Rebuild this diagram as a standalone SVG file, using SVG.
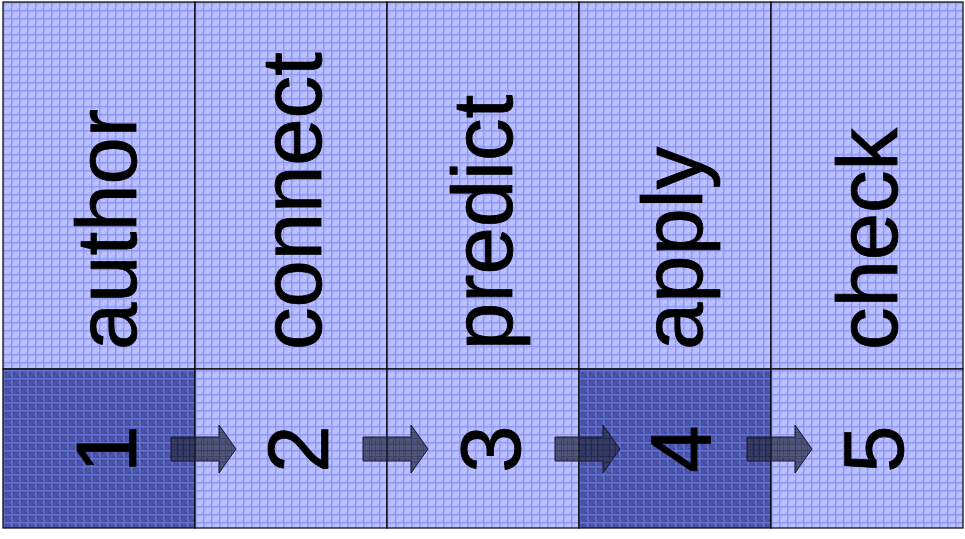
<svg xmlns="http://www.w3.org/2000/svg" width="965" height="539" viewBox="0 0 965 539">
  <defs>
    <!-- light blue grid fill -->
    <pattern id="gridLight" width="8" height="8" patternUnits="userSpaceOnUse" x="3" y="2">
      <rect width="8" height="8" fill="#bcc1fd"/>
      <rect x="2" y="2" width="2" height="2" fill="#aeb4fb"/>
      <rect x="6" y="6" width="2" height="2" fill="#aeb4fb"/>
      <rect x="0" y="0" width="8" height="1.5" fill="#8f99f4"/>
      <rect x="0" y="0" width="1.5" height="8" fill="#8f99f4"/>
    </pattern>
    <!-- dark blue grid fill -->
    <pattern id="gridDark" width="8" height="8" patternUnits="userSpaceOnUse" x="3" y="2">
      <rect width="8" height="8" fill="#4a55a6"/>
      <rect x="2" y="2" width="2" height="2" fill="#3f4996"/>
      <rect x="6" y="6" width="2" height="2" fill="#3f4996"/>
      <rect x="0" y="0" width="8" height="1.5" fill="#6470d6"/>
      <rect x="0" y="0" width="1.5" height="8" fill="#6470d6"/>
    </pattern>
    <!-- textured fill for the step arrows -->
    <pattern id="arrowFill" width="6" height="6" patternUnits="userSpaceOnUse" x="0" y="1">
      <rect width="6" height="6" fill="#2a2d45"/>
      <rect x="0" y="0" width="6" height="1" fill="#14162a"/>
      <rect x="0" y="0" width="1" height="6" fill="#14162a"/>
    </pattern>
    <polygon id="arrowShape" points="0,12 48,12 48,0 65,24 48,48 48,36 0,36"/>
  </defs>
  <style>
    .light { fill: url(#gridLight); stroke: #000; stroke-width: 1.2; }
    .dark { fill: url(#gridDark); stroke: #000; stroke-width: 1.2; }
    .label { font-family: "Liberation Sans", Arial, sans-serif; font-size: 85px; fill: #000; stroke: #000; stroke-width: 0.8; }
    .num { font-family: "Liberation Sans", Arial, sans-serif; font-size: 85px; fill: #000; stroke: #000; stroke-width: 0.8; text-anchor: middle; }
    .arrow { fill: url(#arrowFill); fill-opacity: 0.72; stroke: #1a1a2a; stroke-width: 1; }
  </style>

  <g id="step-author">
    <rect class="light" x="3" y="2" width="192" height="367"/>
    <rect class="dark" x="3" y="369" width="192" height="159"/>
    <text class="label" transform="translate(136,350) rotate(-90)">author</text>
    <text class="num" transform="translate(136,449) rotate(-90)">1</text>
  </g>

  <g id="step-connect">
    <rect class="light" x="195" y="2" width="192" height="367"/>
    <rect class="light" x="195" y="369" width="192" height="159"/>
    <text class="label" transform="translate(321,350) rotate(-90)">connect</text>
    <text class="num" transform="translate(328,449) rotate(-90)">2</text>
  </g>

  <g id="step-predict">
    <rect class="light" x="387" y="2" width="192" height="367"/>
    <rect class="light" x="387" y="369" width="192" height="159"/>
    <text class="label" transform="translate(512,350) rotate(-90)">predict</text>
    <text class="num" transform="translate(520,449) rotate(-90)">3</text>
  </g>

  <g id="step-apply">
    <rect class="light" x="579" y="2" width="192" height="367"/>
    <rect class="dark" x="579" y="369" width="192" height="159"/>
    <text class="label" transform="translate(702,350) rotate(-90)">apply</text>
    <text class="num" transform="translate(710,449) rotate(-90)">4</text>
  </g>

  <g id="step-check">
    <rect class="light" x="771" y="2" width="192" height="367"/>
    <rect class="light" x="771" y="369" width="192" height="159"/>
    <text class="label" transform="translate(897,350) rotate(-90)">check</text>
    <text class="num" transform="translate(903,449) rotate(-90)">5</text>
  </g>

  <g id="connectors">
    <use href="#arrowShape" class="arrow" x="171" y="425"/>
    <use href="#arrowShape" class="arrow" x="363" y="425"/>
    <use href="#arrowShape" class="arrow" x="555" y="425"/>
    <use href="#arrowShape" class="arrow" x="747" y="425"/>
  </g>
</svg>
